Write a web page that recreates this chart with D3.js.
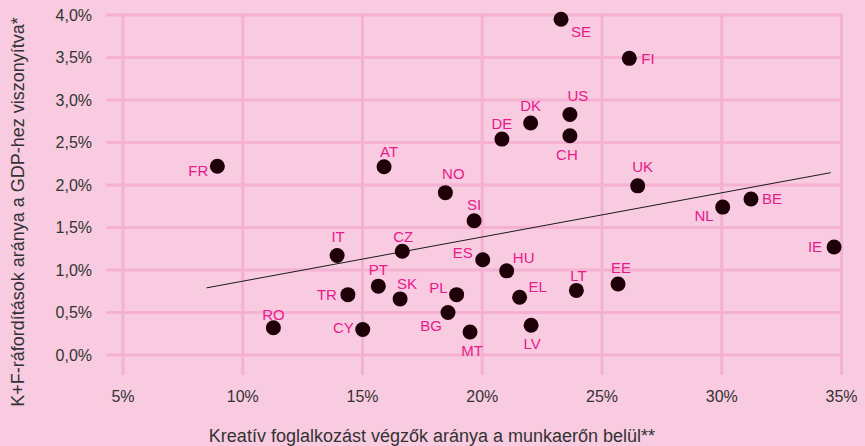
<!DOCTYPE html>
<html lang="hu">
<head>
  <meta charset="utf-8">
  <title>K+F és kreatív foglalkozás</title>
  <script src="https://d3js.org/d3.v7.min.js"></script>
  <style>
    body { margin: 0; background: #f8cbe0; }
    svg { display: block; font-family: "Liberation Sans", Arial, Helvetica, sans-serif; }
  </style>
</head>
<body>
<svg width="865" height="446"></svg>
<script>
  // országkódok, kreatív foglalkoztatottak aránya (%), K+F/GDP (%)
  var countries = ["FR", "RO", "SE", "DK", "US", "CH", "DE", "AT", "NO", "FI", "UK", "BE", "NL", "IE", "EE",
    "SI", "IT", "CZ", "ES", "HU", "PT", "SK", "TR", "PL", "EL", "LT", "BG", "CY", "MT", "LV"];
  var creative = [8.94, 11.28, 23.29, 22.02, 23.66, 23.66, 20.82, 15.90, 18.46, 26.14, 26.49, 31.22, 30.04, 34.69, 25.67,
    19.66, 13.94, 16.66, 20.02, 21.02, 15.66, 16.57, 14.39, 18.93, 21.56, 23.93, 18.57, 15.01, 19.49, 22.04];
  var rnd = [2.22, 0.32, 3.95, 2.73, 2.83, 2.58, 2.54, 2.215, 1.91, 3.49, 1.99, 1.835, 1.74, 1.27, 0.835,
    1.58, 1.17, 1.22, 1.12, 0.99, 0.81, 0.66, 0.71, 0.71, 0.68, 0.76, 0.50, 0.30, 0.27, 0.35];

  var xTicks = [5, 10, 15, 20, 25, 30, 35];
  var yTicks = [0, 0.5, 1, 1.5, 2, 2.5, 3, 3.5, 4];

  // trendvonal végpontjai
  var trendX = [8.49, 34.55];
  var trendY = [0.79, 2.145];

  // címke elhelyezése: [anchor, dx, dy]
  var labelPlace = {
    FR: ["end", -9, 4], RO: ["middle", 0, -13], SE: ["start", 10, 12], DK: ["middle", 0, -17],
    US: ["middle", 8, -19], CH: ["middle", -3, 19], DE: ["middle", 0, -15], AT: ["middle", 5, -15],
    NO: ["middle", 8, -19], FI: ["start", 12, 0], UK: ["middle", 5, -19], BE: ["start", 11, 0],
    NL: ["end", -9, 9], IE: ["end", -12, 0], EE: ["middle", 3, -16], SI: ["middle", 0, -16],
    IT: ["middle", 1, -19], CZ: ["middle", 1, -15], ES: ["middle", -20, -7], HU: ["middle", 17, -13],
    PT: ["middle", 0, -16], SK: ["middle", 7, -15], TR: ["end", -11, 0], PL: ["end", -9, -7],
    EL: ["start", 9, -10], LT: ["middle", 2, -15], BG: ["end", -6, 13], CY: ["end", -9, -2],
    MT: ["middle", 2, 19], LV: ["middle", 1, 18]
  };

  var svg = d3.select("svg");
  var hu = d3.formatLocale({ decimal: ",", thousands: " ", grouping: [3], currency: ["", " Ft"] });
  var fmtY = hu.format(".1f");

  var x = d3.scaleLinear().domain([5, 35]).range([123, 841.5]);
  var y = d3.scaleLinear().domain([0, 4]).range([355, 15]);

  var grid = svg.append("g").attr("stroke", "#f4b1d1").attr("stroke-width", 3);
  grid.selectAll("line.h").data(yTicks).enter().append("line")
    .attr("class", "h")
    .attr("x1", 106).attr("x2", x(35) + 1.5)
    .attr("y1", d => y(d)).attr("y2", d => y(d));
  grid.selectAll("line.v").data(xTicks).enter().append("line")
    .attr("class", "v")
    .attr("x1", d => x(d)).attr("x2", d => x(d))
    .attr("y1", y(4) - 1.5).attr("y2", 375);

  // tengelyfeliratok
  svg.append("g").selectAll("text").data(yTicks).enter().append("text")
    .attr("x", 92).attr("y", d => y(d)).attr("dy", "0.35em")
    .attr("text-anchor", "end").attr("font-size", 16).attr("fill", "#333")
    .text(d => fmtY(d) + "%");
  svg.append("g").selectAll("text").data(xTicks).enter().append("text")
    .attr("x", d => x(d)).attr("y", 402)
    .attr("text-anchor", "middle").attr("font-size", 16).attr("fill", "#333")
    .text(d => d + "%");

  svg.append("text")
    .attr("x", 432).attr("y", 442)
    .attr("text-anchor", "middle").attr("font-size", 18).attr("fill", "#333")
    .text("Kreatív foglalkozást végzők aránya a munkaerőn belül**");
  svg.append("text")
    .attr("transform", "translate(24,212) rotate(-90)")
    .attr("text-anchor", "middle").attr("font-size", 18).attr("fill", "#333")
    .text("K+F-ráfordítások aránya a GDP-hez viszonyítva*");

  // trendvonal
  svg.append("line")
    .attr("x1", x(trendX[0])).attr("y1", y(trendY[0]))
    .attr("x2", x(trendX[1])).attr("y2", y(trendY[1]))
    .attr("stroke", "#1a1a1a").attr("stroke-width", 1);

  var data = countries.map((c, i) => ({ code: c, cx: creative[i], ry: rnd[i] }));

  svg.append("g").selectAll("circle").data(data).enter().append("circle")
    .attr("cx", d => x(d.cx)).attr("cy", d => y(d.ry)).attr("r", 7.5)
    .attr("fill", "#1e0008");

  svg.append("g").selectAll("text").data(data).enter().append("text")
    .attr("x", d => x(d.cx) + labelPlace[d.code][1])
    .attr("y", d => y(d.ry) + labelPlace[d.code][2])
    .attr("dy", "0.35em")
    .attr("text-anchor", d => labelPlace[d.code][0])
    .attr("font-size", 15).attr("fill", "#e8198b")
    .text(d => d.code);
</script>
</body>
</html>
